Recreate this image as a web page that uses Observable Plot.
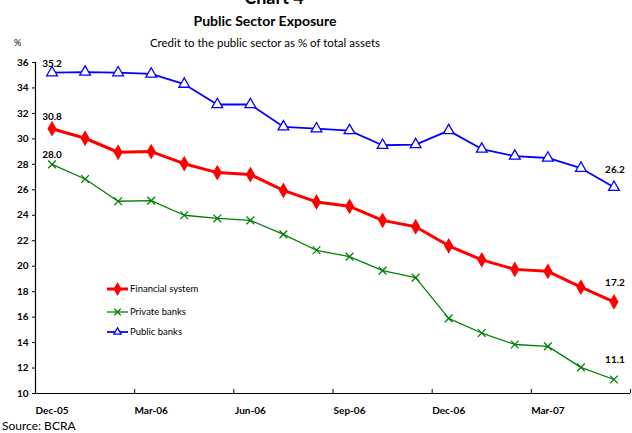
<!DOCTYPE html>
<html><head><meta charset="utf-8">
<script src="https://cdn.jsdelivr.net/npm/d3@7"></script>
<script src="https://cdn.jsdelivr.net/npm/@observablehq/plot@0.6"></script>
<style>
body{margin:0;background:#fff;font-family:Lato,"Open Sans",sans-serif;}
#wrap{position:relative;width:632px;height:433px;overflow:hidden;}
.t{position:absolute;white-space:nowrap;color:#000;}
#leg{position:absolute;left:0;top:0;}
</style></head><body>
<div id="wrap">
<div class="t" style="left:0;width:548px;text-align:center;top:-14px;font-size:18px;font-weight:bold;">Chart 4</div>
<div class="t" style="left:0;width:530px;text-align:center;top:12px;font-size:14px;font-weight:bold;">Public Sector Exposure</div>
<div class="t" style="left:0;width:530px;text-align:center;top:36px;font-size:11.5px;">Credit to the public sector as % of total assets</div>
<div class="t" style="left:14px;top:37px;font-size:9px;">%</div>
<div class="t" style="left:2px;top:418px;font-size:12px;">Source: BCRA</div>
<div id="chart"></div>
</div>
<script>
const months = ["Dec-05","Jan-06","Feb-06","Mar-06","Apr-06","May-06","Jun-06","Jul-06","Aug-06","Sep-06","Oct-06","Nov-06","Dec-06","Jan-07","Feb-07","Mar-07","Apr-07","May-07"];
const financialSystem = [30.8,30.05,28.95,29.0,28.05,27.35,27.2,25.95,25.05,24.7,23.6,23.1,21.6,20.5,19.75,19.6,18.35,17.2];
const privateBanks = [28.0,26.85,25.1,25.15,24.0,23.75,23.6,22.5,21.25,20.75,19.65,19.1,15.9,14.75,13.85,13.7,12.05,11.1];
const publicBanks = [35.2,35.25,35.2,35.1,34.3,32.7,32.7,30.95,30.8,30.65,29.5,29.55,30.65,29.2,28.65,28.5,27.7,26.2];
const yTicks = [10,12,14,16,18,20,22,24,26,28,30,32,34,36];
const xLabelIdx = [0,3,6,9,12,15];
const xTickIdx = [2.5,5.5,8.5,11.5,14.5,17.5];

const series = [
  {name:"Financial system", values:financialSystem, color:"#ff0000", sw:3, symbol:"diamond", fill:"#ff0000", r:4, labelDy:-12},
  {name:"Private banks", values:privateBanks, color:"#008000", sw:1.3, symbol:"times", fill:"none", r:3.6, labelDy:-10},
  {name:"Public banks", values:publicBanks, color:"#0000ff", sw:1.8, symbol:"triangle", fill:"white", r:4, labelDy:-9}
];
const endDy = {"Financial system":-19,"Private banks":-20,"Public banks":-17};

const marks = [];
marks.push(Plot.ruleY([10], {x1:-0.5, x2:17.5, stroke:"#000", strokeWidth:1.2}));
marks.push(Plot.ruleX([-0.5], {y1:10, y2:36, stroke:"#000", strokeWidth:1.2}));
marks.push(Plot.axisY({ticks:yTicks, tickSize:3, tickPadding:4, fontSize:10, fontWeight:"bold", label:null}));
marks.push(Plot.axisX({ticks:xTickIdx, tickSize:-4, tickFormat:()=>"", strokeWidth:1, label:null}));
marks.push(Plot.axisX({ticks:xLabelIdx, tickSize:0, tickPadding:13, fontSize:10, fontWeight:"bold", tickFormat:i=>months[i], label:null}));
for (const s of series) {
  const data = s.values.map((v,i)=>({i, v}));
  marks.push(Plot.line(data, {x:"i", y:"v", stroke:s.color, strokeWidth:s.sw}));
  marks.push(Plot.dot(data, {x:"i", y:"v", symbol:()=>s.symbol, r:s.r, stroke:s.color, fill:s.fill, strokeWidth:1.3}));
  marks.push(Plot.text([data[0]], {x:"i", y:"v", text:d=>d.v.toFixed(1), dy:s.labelDy, dx:0, fontSize:10, fontWeight:"bold"}));
  marks.push(Plot.text([data[data.length-1]], {x:"i", y:"v", text:d=>d.v.toFixed(1), dy:endDy[s.name], dx:1, fontSize:10, fontWeight:"bold"}));
}

const chart = Plot.plot({
  width:632, height:433,
  marginLeft:35, marginRight:2, marginTop:62, marginBottom:40,
  style:{fontFamily:"Lato, 'Open Sans', sans-serif", background:"transparent", overflow:"visible"},
  x:{type:"linear", domain:[-0.5,17.5], axis:null, label:null},
  y:{domain:[10,36], axis:null, label:null},
  symbol:{type:"identity"},
  marks
});
document.getElementById("chart").appendChild(chart);

// legend
const NS = "http://www.w3.org/2000/svg";
const leg = document.createElementNS(NS,"svg");
leg.setAttribute("id","leg"); leg.setAttribute("width",632); leg.setAttribute("height",433);
const legY = [289,312,332];
series.forEach((s,k)=>{
  const y = legY[k];
  const line = document.createElementNS(NS,"line");
  line.setAttribute("x1",107); line.setAttribute("x2",128); line.setAttribute("y1",y); line.setAttribute("y2",y);
  line.setAttribute("stroke",s.color); line.setAttribute("stroke-width",s.sw);
  leg.appendChild(line);
  const p = document.createElementNS(NS,"path");
  const sym = {diamond:d3.symbolDiamond, times:d3.symbolTimes, triangle:d3.symbolTriangle2}[s.symbol];
  p.setAttribute("d", d3.symbol(sym, Math.PI*(s.r-0.6)*(s.r-0.6))());
  p.setAttribute("transform",`translate(117.5,${y})`);
  p.setAttribute("stroke",s.color); p.setAttribute("fill",s.fill); p.setAttribute("stroke-width",1.3);
  leg.appendChild(p);
  const t = document.createElementNS(NS,"text");
  t.setAttribute("x",130); t.setAttribute("y",y); t.setAttribute("dy","0.35em");
  t.setAttribute("font-size",9.5); t.setAttribute("font-family","Lato, 'Open Sans', sans-serif");
  t.textContent = s.name;
  leg.appendChild(t);
});
document.getElementById("wrap").appendChild(leg);
</script>
</body></html>
